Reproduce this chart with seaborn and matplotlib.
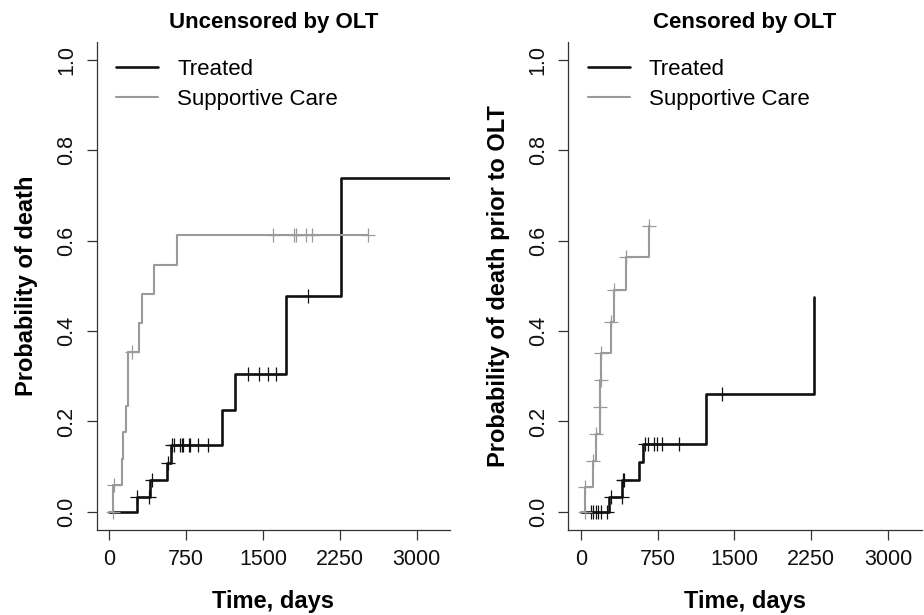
import numpy as np
import pandas as pd
import seaborn as sns
import matplotlib.pyplot as plt

# step curves (days, cumulative probability of death)
# left panel: uncensored by OLT
tr_unc_days = [0, 267, 397, 560, 602, 1098, 1228, 1722, 2263]
tr_unc_prob = [0, 0.033, 0.070, 0.109, 0.148, 0.225, 0.304, 0.478, 0.739]
tr_unc_end = 3327
tr_unc_cens = [273, 391, 414, 570, 615, 632, 690, 707, 723, 781, 788, 869, 967,
               1358, 1462, 1547, 1628, 1937]

sc_unc_days = [0, 39, 121, 131, 163, 180, 186, 293, 316, 437, 658]
sc_unc_prob = [0, 0.059, 0.118, 0.176, 0.235, 0.294, 0.353, 0.418, 0.482, 0.547, 0.612]
sc_unc_end = 2529
sc_unc_cens = [36, 42, 225, 1600, 1804, 1825, 1918, 1980, 2529]

# right panel: censored by OLT
tr_cen_days = [0, 277, 404, 567, 603, 1223, 2273]
tr_cen_prob = [0, 0.034, 0.070, 0.111, 0.151, 0.260, 0.476]
tr_cen_end = 2273
tr_cen_cens = [95, 120, 147, 170, 193, 251, 290, 398, 410, 425,
               626, 659, 717, 740, 789, 962, 1377]

sc_cen_days = [0, 39, 120, 144, 186, 190, 193, 290, 323, 440, 665]
sc_cen_prob = [0, 0.055, 0.112, 0.172, 0.231, 0.291, 0.351, 0.421, 0.491, 0.563, 0.633]
sc_cen_end = 665
sc_cen_cens = [36, 41, 122, 146, 188, 192, 195, 292, 325, 442, 667]

x_ticks = [0, 750, 1500, 2250, 3000]
y_ticks = [0.0, 0.2, 0.4, 0.6, 0.8, 1.0]

BLACK = '#111111'
GREY = '#9a9a9a'

sns.set_style('ticks')
plt.rcParams['font.family'] = ['Liberation Sans', 'DejaVu Sans']
plt.rcParams['text.color'] = 'black'
plt.rcParams['axes.labelcolor'] = 'black'


def draw_curve(ax, days, prob, end, cens, color, lw, label):
    x = list(days) + [end]
    y = list(prob) + [prob[-1]]
    sns.lineplot(x=x, y=y, drawstyle='steps-post', color=color, lw=lw,
                 sort=False, estimator=None, label=label, ax=ax)
    # censor marks sit on the curve at the censoring time
    idx = np.searchsorted(days, cens, side='right') - 1
    df = pd.DataFrame({'t': cens, 'p': np.asarray(prob)[idx]})
    sns.scatterplot(data=df, x='t', y='p', marker='+', s=110, color=color,
                    linewidth=0.9, ax=ax, zorder=3)


fig = plt.figure(figsize=(9.24, 6.15), dpi=100)
ax1 = fig.add_axes([0.1047, 0.1382, 0.3824, 0.794])
ax2 = fig.add_axes([0.615, 0.1382, 0.3824, 0.794])

draw_curve(ax1, tr_unc_days, tr_unc_prob, tr_unc_end, tr_unc_cens, BLACK, 1.9, 'Treated')
draw_curve(ax1, sc_unc_days, sc_unc_prob, sc_unc_end, sc_unc_cens, GREY, 1.5, 'Supportive Care')
draw_curve(ax2, tr_cen_days, tr_cen_prob, tr_cen_end, tr_cen_cens, BLACK, 1.9, 'Treated')
draw_curve(ax2, sc_cen_days, sc_cen_prob, sc_cen_end, sc_cen_cens, GREY, 1.5, 'Supportive Care')

titles = ['Uncensored by OLT', 'Censored by OLT']
ylabels = ['Probability of death', 'Probability of death prior to OLT']

for ax, title, ylab in zip([ax1, ax2], titles, ylabels):
    ax.set_xlim(-123, 3327)
    ax.set_ylim(-0.04, 1.04)
    ax.set_xticks(x_ticks)
    ax.set_xticklabels([str(t) for t in x_ticks])
    ax.set_yticks(y_ticks)
    ax.set_yticklabels(['%.1f' % t for t in y_ticks], rotation=90, va='center')
    ax.tick_params(axis='both', length=7, width=0.9, color='#333333',
                   labelsize=15.5, labelcolor='#111111', pad=7)
    sns.despine(ax=ax)
    for side in ['left', 'bottom']:
        ax.spines[side].set_color('#333333')
        ax.spines[side].set_linewidth(0.9)
    ax.set_title(title, fontsize=16, fontweight='bold', pad=10)
    ax.set_xlabel('Time, days', fontsize=17, fontweight='bold', labelpad=14)
    ax.set_ylabel(ylab, fontsize=17, fontweight='bold', labelpad=13)
    ax.legend(loc='upper left', bbox_to_anchor=(0.055, 0.965), frameon=False,
              fontsize=16, handlelength=1.9, handletextpad=0.85,
              labelspacing=0.4, borderaxespad=0, borderpad=0)

fig.savefig('out.png', dpi=100)
